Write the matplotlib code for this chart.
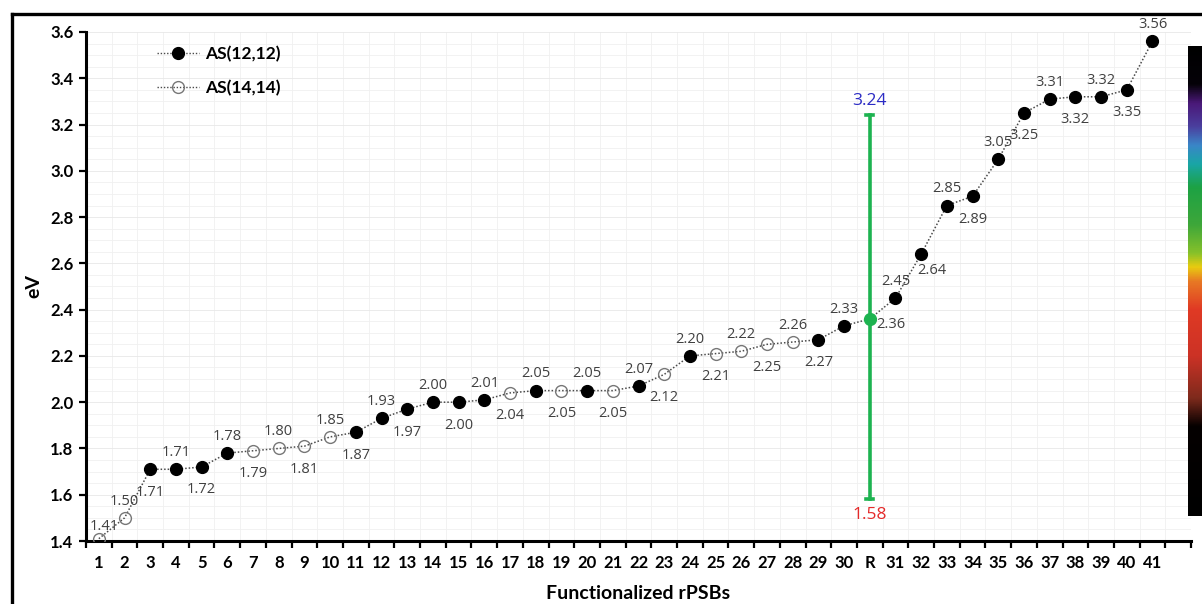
import numpy as np
import matplotlib
matplotlib.use("Agg")
import matplotlib.pyplot as plt
from matplotlib.lines import Line2D
from matplotlib.colors import LinearSegmentedColormap

# ---------------- data ----------------
categories = [str(i) for i in range(1, 31)] + ["R"] + [str(i) for i in range(31, 42)]
values = [1.41, 1.50, 1.71, 1.71, 1.72, 1.78, 1.79, 1.80, 1.81, 1.85,
          1.87, 1.93, 1.97, 2.00, 2.00, 2.01, 2.04, 2.05, 2.05, 2.05,
          2.05, 2.07, 2.12, 2.20, 2.21, 2.22, 2.25, 2.26, 2.27, 2.33,
          2.36,
          2.45, 2.64, 2.85, 2.89, 3.05, 3.25, 3.31, 3.32, 3.32, 3.35, 3.56]
# f = AS(12,12) filled, o = AS(14,14) open, R = reference
kinds = ["o", "o", "f", "f", "f", "f", "o", "o", "o", "o",
         "f", "f", "f", "f", "f", "f", "o", "f", "o", "f",
         "o", "f", "o", "f", "o", "o", "o", "o", "f", "f",
         "R",
         "f", "f", "f", "f", "f", "f", "f", "f", "f", "f", "f"]
# label placement: a = above, b = below, others special
label_side = ["s", "a", "b", "a", "b", "a", "b", "a", "b", "a",
              "b", "a", "b", "a", "b", "a", "b", "a", "b", "a",
              "b", "a", "b", "a", "b", "a", "b", "a", "b", "a",
              "r",
              "a", "r2", "a", "b", "a", "b", "a", "b", "a", "b", "a"]
series_names = ["AS(12,12)", "AS(14,14)"]
ref_range = [1.58, 3.24]
yticks = [1.4, 1.6, 1.8, 2.0, 2.2, 2.4, 2.6, 2.8, 3.0, 3.2, 3.4, 3.6]

# spectrum strip colour stops (fraction from top, colour)
spectrum_stops = [(0.00, "#000000"), (0.08, "#050208"), (0.12, "#4a1878"),
                  (0.17, "#4b3f9e"), (0.21, "#3a86c8"), (0.25, "#19a6a6"),
                  (0.30, "#1da244"), (0.38, "#3ea73a"), (0.44, "#86c12a"),
                  (0.47, "#e8cc10"), (0.50, "#e87a24"), (0.56, "#e03a24"),
                  (0.66, "#cc3226"), (0.75, "#7e2a1c"), (0.81, "#050000"),
                  (1.00, "#000000")]

# ---------------- figure ----------------
plt.rcParams['font.family'] = ['Lato', 'DejaVu Sans']
W, H = 1202, 604
fig = plt.figure(figsize=(W / 100, H / 100), dpi=100)
ax = fig.add_axes([86 / W, 1 - 541 / H, (1191 - 86) / W, (541 - 32) / H])

x = np.arange(len(categories))
vals = np.array(values)
lblfont = ['Open Sans', 'DejaVu Sans']

# grid
ax.set_axisbelow(True)
ax.set_xticks(np.arange(-0.5, len(categories) + 1, 1), minor=True)
ax.set_yticks(np.arange(1.4, 3.61, 0.05), minor=True)
ax.grid(which='minor', color='#f0f0f0', lw=0.6)
ax.grid(which='major', axis='y', color='#e8e8e8', lw=0.6)

# connecting dotted line
ax.plot(x, vals, ls=(0, (1, 1.3)), color='#4a4a4a', lw=1.1, zorder=3)

kinds_arr = np.array(kinds)
mf = kinds_arr == "f"
mo = kinds_arr == "o"
mr = kinds_arr == "R"
ax.plot(x[mf], vals[mf], 'o', ms=8.5, color='black', zorder=5)
ax.plot(x[mo], vals[mo], 'o', ms=8.5, mfc='none', mec='#777777', mew=1.0, zorder=5)

# reference error bar
xr = x[mr][0]
green = '#1db350'
ax.plot([xr, xr], ref_range, color=green, lw=2.6, zorder=4)
for yy in ref_range:
    ax.plot([xr - 0.14, xr + 0.14], [yy, yy], color=green, lw=2.6, zorder=4)
ax.plot(x[mr], vals[mr], 'o', ms=8.5, color=green, zorder=6)
ax.annotate(f"{ref_range[1]:.2f}", (xr, ref_range[1]), xytext=(0, 10), textcoords='offset points',
            ha='center', va='center', color='#2b2bc4', fontsize=12.5, family=lblfont)
ax.annotate(f"{ref_range[0]:.2f}", (xr, ref_range[0]), xytext=(0, -11.5), textcoords='offset points',
            ha='center', va='center', color='#e52a2a', fontsize=12.5, family=lblfont)

# data labels
offsets = {"a": (0, 12), "b": (0, -16.5), "s": (4, 9), "r": (15, -4), "r2": (8, -12)}
for xi, v, side in zip(x, vals, label_side):
    dx, dy = offsets[side]
    ax.annotate(f"{v:.2f}", (xi, v), xytext=(dx, dy), textcoords='offset points',
                ha='center', va='center', fontsize=10.5, color='#404040',
                family=lblfont, zorder=7)

# axes formatting
ax.set_xlim(-0.5, len(categories) + 0.5)
ax.set_ylim(1.4, 3.6)
ax.set_xticks(x)
ax.set_xticklabels(categories, fontsize=12, fontweight='bold')
ax.set_yticks(yticks)
ax.set_yticklabels([f"{t:.1f}" for t in yticks], fontsize=12, fontweight='bold')
ax.tick_params(axis='x', which='major', length=0, pad=10)
ax.tick_params(axis='x', which='minor', length=5, width=1.6, direction='out', color='black')
ax.tick_params(axis='y', which='major', length=5, width=1.6, direction='out', pad=4)
ax.tick_params(axis='y', which='minor', length=0)
for s in ['top', 'right']:
    ax.spines[s].set_visible(False)
for s in ['left', 'bottom']:
    ax.spines[s].set_linewidth(2.2)
ax.set_ylabel("eV", fontsize=14, fontweight='bold', labelpad=6)
ax.set_xlabel("Functionalized rPSBs", fontsize=14, fontweight='bold', labelpad=10)

# legend
handles = [Line2D([], [], ls=(0, (1, 1.3)), color='#4a4a4a', lw=1.0, marker='o', ms=8.5, mfc='black', mec='black'),
           Line2D([], [], ls=(0, (1, 1.3)), color='#4a4a4a', lw=1.0, marker='o', ms=8.5, mfc='none', mec='#777777')]
leg = ax.legend(handles, series_names, loc='upper left', bbox_to_anchor=(0.05, 1.004), frameon=False,
                prop={'weight': 'bold', 'size': 12.5}, handlelength=2.4, labelspacing=1.05, handletextpad=0.4)

# spectrum strip
cmap = LinearSegmentedColormap.from_list("spec", spectrum_stops)
cax = fig.add_axes([1188 / W, 1 - 516 / H, 24 / W, (516 - 46) / H])
cax.imshow(np.linspace(0, 1, 256).reshape(-1, 1), aspect='auto', cmap=cmap)
cax.set_axis_off()

# outer frame (left & top visible)
fig.add_artist(Line2D([12 / W, 12 / W], [0, 1 - 14 / H], color='black', lw=2.4, transform=fig.transFigure))
fig.add_artist(Line2D([12 / W, 1], [1 - 14 / H, 1 - 14 / H], color='black', lw=2.4, transform=fig.transFigure))

fig.savefig("out.png", dpi=100)
